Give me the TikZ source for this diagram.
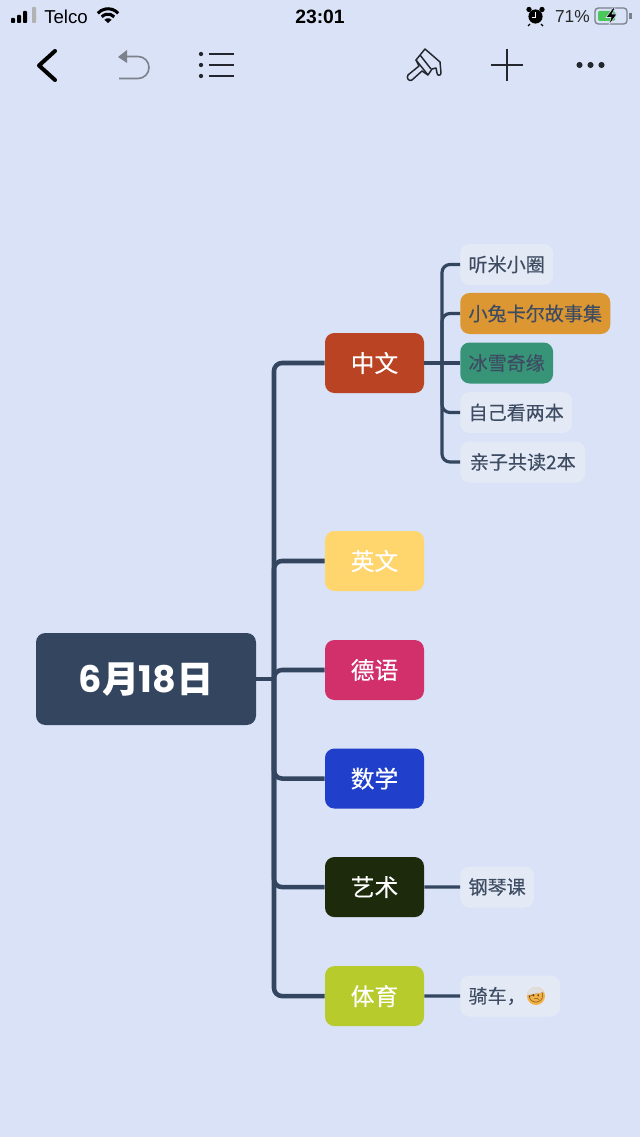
\documentclass[tikz,border=0pt]{standalone}
\usepackage{fontspec}
\setmainfont{Noto Sans CJK SC}[FakeBold=0.25]
\newfontfamily\latinfont{Liberation Sans}
\newfontfamily\digitfont{Poppins}
\newfontfamily\emojifont{Noto Emoji}
\usetikzlibrary{shapes,arrows}
\definecolor{paper}{HTML}{D9E2F6}
\definecolor{slate}{HTML}{34465F}
\definecolor{ink}{HTML}{3D4C63}
\definecolor{leafgray}{HTML}{E4EAF5}
\definecolor{undogray}{HTML}{7C828C}
\definecolor{iconink}{HTML}{23262C}
\tikzstyle{root} = [rectangle, fill=slate, text=white, rounded corners=7pt,
    minimum width=165pt, minimum height=69pt, font=\fontsize{27.5}{27.5}\selectfont\bfseries]
\tikzstyle{branch} = [rectangle, text=white, rounded corners=7pt,
    minimum width=74.25pt, minimum height=45pt, font=\fontsize{17.8}{17.8}\selectfont]
\tikzstyle{leaf} = [rectangle, fill=leafgray, text=ink, rounded corners=7pt, anchor=west,
    inner xsep=6.2pt, inner ysep=0pt, minimum height=30.75pt, font=\fontsize{14.3}{14.3}\selectfont]
\tikzstyle{line} = [draw, slate, line width=3.4pt, rounded corners=6pt]
\tikzstyle{subline} = [draw, slate, line width=2.4pt, rounded corners=6pt]
\tikzstyle{bar} = [fill=black, rounded corners=0.6pt]
\tikzstyle{statustext} = [inner sep=0pt, font=\latinfont\fontsize{14}{14}\selectfont]

\begin{document}
\begin{tikzpicture}[x=0.75pt, y=-0.75pt, node distance=100pt]

        \useasboundingbox [fill=paper] (0,0) rectangle (640,1137);

        % Place nodes
        \node [root] (date) at (146,679) {{\digitfont 6}月{\digitfont 18}日};
        \node [branch, fill={rgb,255:red,185;green,67;blue,34}] (zhongwen) at (374.5,363) {中文};
        \node [branch, fill={rgb,255:red,255;green,213;blue,110}, below of=zhongwen, node distance=148.5pt] (yingwen) {英文};
        \node [branch, fill={rgb,255:red,210;green,48;blue,107}, below of=yingwen, node distance=81.75pt] (deyu) {德语};
        \node [branch, fill={rgb,255:red,32;green,64;blue,204}, below of=deyu, node distance=81.4pt] (shuxue) {数学};
        \node [branch, fill={rgb,255:red,29;green,42;blue,12}, below of=shuxue, node distance=81.4pt] (yishu) {艺术};
        \node [branch, fill={rgb,255:red,184;green,203;blue,44}, below of=yishu, node distance=81.75pt] (tiyu) {体育};

        \node [leaf] (tingmi) at (460,264.5) {听米小圈};
        \node [leaf, fill={rgb,255:red,220;green,150;blue,50}] (tuzi) at (460,313.5) {小兔卡尔故事集};
        \node [leaf, fill={rgb,255:red,56;green,148;blue,119}] (bingxue) at (460,363) {冰雪奇缘};
        \node [leaf] (ziji) at (460,412.5) {自己看两本};
        \node [leaf, minimum width=93.75pt] (qinzi) at (460,462) {亲子共读2本};
        \node [leaf] (gangqin) at (460,887) {钢琴课};
        \node [leaf] (qiche) at (460,996) {骑车，\rule{19.5pt}{0pt}};
        \node [circle, fill={rgb,255:red,243;green,178;blue,70}, inner sep=0pt, minimum size=13.5pt,
            label={[inner sep=0pt, text={rgb,255:red,95;green,60;blue,30}, font=\emojifont\fontsize{10.5}{10.5}\selectfont]center:🤕}] (hurt) at (536,996) {};
        \fill [gray!25] (hurt.175) arc [start angle=175, end angle=25, radius=6.75pt] -- cycle;

        \coordinate (trunk) at (274,679);
        \coordinate (subtrunk) at (442,363);

        % Draw edges
        \path [line] (date) -- (trunk);
        \foreach \b in {zhongwen,yingwen,deyu,shuxue,yishu,tiyu}
            \path [line] (trunk) |- (\b.west);
        \path [subline] (zhongwen) -- (bingxue);
        \foreach \l in {tingmi,tuzi,ziji,qinzi}
            \path [subline] (subtrunk) |- (\l.west);
        \path [subline] (yishu) -- (gangqin);
        \path [subline] (tiyu) -- (qiche);

        % Status bar
        \fill [bar] (11,18) rectangle (15,23);
        \fill [bar] (17,15) rectangle (21,23);
        \fill [bar] (23,11) rectangle (27,23);
        \fill [bar, fill=gray!60] (32,7) rectangle (36,23);
        \node [statustext, anchor=west] (telco) at (44,16.5) {Telco};
        \foreach \r in {6.3,10.3}
            \draw [line width=2.3pt] (108,22.5) ++(42:\r pt) arc [start angle=42, end angle=138, radius=\r pt];
        \fill (108,23) -- ++(42:3.6pt) arc [start angle=42, end angle=138, radius=3.6pt] -- cycle;
        \node [statustext, font=\latinfont\bfseries\fontsize{14.5}{14.5}\selectfont] (clock) at (320,16.5) {23:01};
        \fill (535.5,16.5) circle (5.3pt);
        \draw [white, line width=0.6pt] (535.5,12.5) -- (535.5,17) -- (531.5,17);
        \fill (529,9.5) circle (2pt) (542,9.5) circle (2pt);
        \draw [line width=1pt] (530,24) -- (528,26) (541,24) -- (543,26);
        \node [statustext, anchor=east, text=black!85, font=\latinfont\fontsize{13}{13}\selectfont] (percent) at (590,16.5) {71\%};
        \draw [undogray, line width=1pt, rounded corners=2.5pt] (595,8) rectangle (627,24);
        \fill [fill={rgb,255:red,76;green,199;blue,90}, rounded corners=1pt] (598,11) rectangle (615,21);
        \filldraw [draw=paper, line width=0.4pt] (613,8) -- (606,17.5) -- (611,17.5) -- (609,25) -- (617,14) -- (612,14) -- (615,8) -- cycle;
        \fill [undogray] (629,13) rectangle (631.5,19);

        % Toolbar
        \draw [line width=3pt, line cap=round, line join=round] (55,51) -- (39,65.5) -- (55,80);
        \draw [undogray, line width=1.2pt] (127,56.5) -- (138,56.5) arc [start angle=90, end angle=-90, radius=8.25pt] -- (119,78.5);
        \fill [undogray] (118,57) -- (127,50) -- (127,63) -- cycle;
        \foreach \y in {54,65,76} {
            \fill [iconink] (201,\y) circle (1.6pt);
            \draw [iconink, line width=1.2pt] (209,\y) -- (233.5,\y);
        }
        % brush
        \begin{scope} [line width=1.1pt, iconink, line join=round]
            \draw (425,49) -- (440,62) -- (441,73) .. controls (441,76) and (437,76) .. (437,73) -- (436,68) -- (432,69) -- (428,75) -- (416,60) -- cycle;
            \draw (416,60) -- (419,66) -- (408,75) .. controls (406,78) and (409,82) .. (412,80) -- (422,71) -- (428,75);
            \draw (420,55) -- (431,69);
        \end{scope}
        \draw [iconink, line width=1.2pt] (491,65) -- (523,65) (507,49.5) -- (507,81);
        \foreach \x in {579.5,590.5,601.5}
            \fill [iconink] (\x,65) circle (2.3pt);
    \end{tikzpicture}
\end{document}
